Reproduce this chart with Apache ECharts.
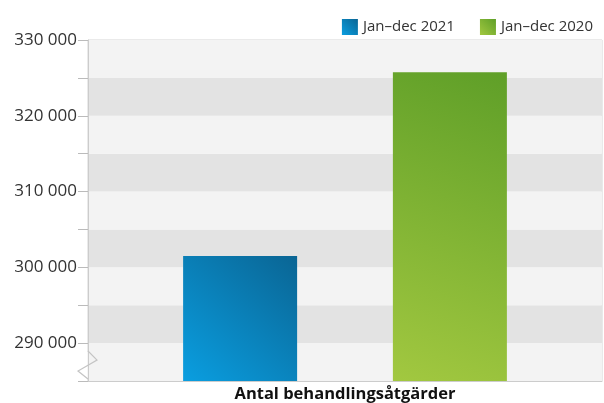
<!DOCTYPE html>
<html><head><meta charset="utf-8">
<script src="https://cdn.jsdelivr.net/npm/echarts@6/dist/echarts.min.js"></script>
<style>html,body{margin:0;padding:0;background:#fff}#c{width:604px;height:403px}</style>
</head><body><div id="c"></div>
<script>
const categories = ['Antal behandlingsåtgärder'];
const seriesNames = ['Jan–dec 2021', 'Jan–dec 2020'];
const values2021 = [301480];
const values2020 = [325730];
const yTicks = [290000, 300000, 310000, 320000, 330000];

const chart = echarts.init(document.getElementById('c'));
function grad(c1, c2) {
  return new echarts.graphic.LinearGradient(0, 1, 1, 0, [{offset: 0, color: c1}, {offset: 1, color: c2}]);
}
const fmt = v => String(v).replace(/\B(?=(\d{3})+(?!\d))/g, ' ');
chart.setOption({
  animation: false,
  textStyle: {fontFamily: 'Open Sans'},
  legend: {
    right: 6, top: 14, itemWidth: 16, itemHeight: 16, itemGap: 25, icon: 'rect',
    textStyle: {fontSize: 15, color: '#333', fontFamily: 'Open Sans'},
    data: seriesNames
  },
  grid: {left: 88, right: 2, top: 40, bottom: 22, show: true, borderColor: '#d4d4d4', borderWidth: 1, backgroundColor: 'transparent'},
  xAxis: {
    type: 'category', data: categories,
    axisLine: {lineStyle: {color: '#cccccc'}},
    axisTick: {show: false},
    axisLabel: {fontWeight: 'bold', fontSize: 16.5, color: '#111', margin: 5, fontFamily: 'Open Sans'}
  },
  yAxis: {
    type: 'value', min: 285000, max: 330000, interval: 5000,
    axisLine: {show: true, lineStyle: {color: '#cccccc'}},
    axisTick: {show: true, length: 10, lineStyle: {color: '#bbbbbb'}},
    splitLine: {show: false},
    splitArea: {show: true, areaStyle: {color: ['#f3f3f3', '#e3e3e3']}},
    axisLabel: {
      fontSize: 17, color: '#333', margin: 11, fontFamily: 'Open Sans',
      formatter: v => yTicks.indexOf(v) >= 0 ? fmt(v) : ''
    }
  },
  series: [
    {name: seriesNames[0], type: 'bar', data: values2021, barWidth: 114, barGap: '84%',
     itemStyle: {color: grad('#0a9ee0', '#0a6594')}},
    {name: seriesNames[1], type: 'bar', data: values2020, barWidth: 114,
     itemStyle: {color: grad('#a2c840', '#5f9f28')}}
  ]
});
// axis break zigzag decoration
const yb = chart.convertToPixel({yAxisIndex: 0}, 285000);
chart.setOption({
  graphic: [
    {type: 'rect', shape: {x: 84, y: yb - 29, width: 3.5, height: 27}, style: {fill: '#fff'}, z: 100},
    {type: 'polyline', shape: {points: [[88, yb - 30], [97, yb - 21], [78, yb - 10], [88, yb - 2]]},
     style: {stroke: '#c4c4c4', lineWidth: 1.2, fill: null}, z: 101}
  ]
});
</script></body></html>
